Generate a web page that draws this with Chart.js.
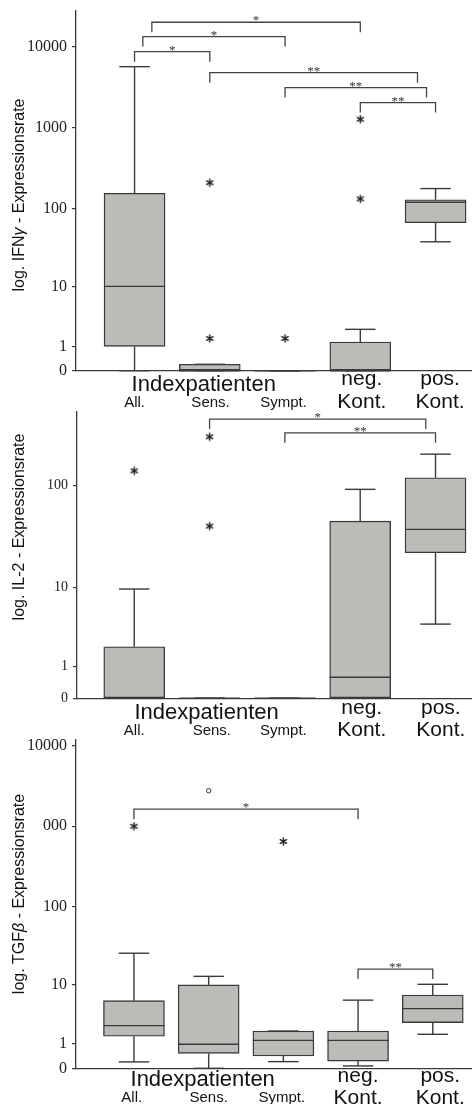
<!DOCTYPE html>
<html>
<head>
<meta charset="utf-8">
<script src="https://cdn.jsdelivr.net/npm/chart.js@4.4.1/dist/chart.umd.min.js"></script>
<style>
  html, body { margin: 0; padding: 0; background: #fff; }
  body { width: 476px; height: 1104px; position: relative; overflow: hidden; }
  .panel { position: absolute; left: 0; width: 476px; }
  canvas { display: block; }
</style>
</head>
<body>
<div class="panel" style="top:0px"><canvas id="cIfn" width="476" height="412"></canvas></div>
<div class="panel" style="top:400px"><canvas id="cIl2" width="476" height="345"></canvas></div>
<div class="panel" style="top:735px"><canvas id="cTgf" width="476" height="369"></canvas></div>
<script>
// ---- groups ----
const groups = ['All.', 'Sens.', 'Sympt.', 'neg. Kont.', 'pos. Kont.'];
const patientGroupTitle = 'Indexpatienten';
const patientGroupCount = 3;

// ---- IFN-gamma expression (box statistics per group) ----
const ifnTickValues = [0, 1, 10, 100, 1000, 10000];
const ifnTickLabels = ['0', '1', '10', '100', '1000', '10000'];
const ifnMin = [0, 0, 0, 0, 38];
const ifnQ1  = [1, 0, 0, 0, 66];
const ifnMed = [10, 0, 0, 0, 119];
const ifnQ3  = [154, 0.2, 0, 1.26, 128];
const ifnMax = [5660, 0.2, 0, 2.24, 176];
const ifnStarX = [1, 1, 2, 3, 3];
const ifnStarY = [1.5, 208, 1.5, 131, 1270];
const ifnSigFrom  = [0.23, 0.11, 0, 1, 2, 3];
const ifnSigTo    = [3, 2, 1, 3.76, 3.88, 4];
const ifnSigLevel = [20000, 13300, 8670, 4775, 3120, 2040];
const ifnSigText  = ['*', '*', '*', '**', '**', '**'];

// ---- IL-2 expression ----
const il2TickValues = [0, 1, 10, 100];
const il2TickLabels = ['0', '1', '10', '100'];
const il2Min = [0, 0, 0, 0, 4.0];
const il2Q1  = [0, 0, 0, 0, 22.5];
const il2Med = [0, 0, 0, 0.58, 38];
const il2Q3  = [2.06, 0, 0, 45.7, 118.5];
const il2Max = [9.7, 0, 0, 92, 198.5];
const il2StarX = [0, 1, 1];
const il2StarY = [138, 290, 40.9];
const il2SigFrom  = [1, 2];
const il2SigTo    = [3.87, 4];
const il2SigLevel = [426, 316];
const il2SigText  = ['*', '**'];

// ---- TGF-beta expression ----
const tgfTickValues = [0, 1, 10, 100, 1000, 10000];
const tgfTickLabels = ['0', '1', '10', '100', '000', '10000'];
const tgfMin = [0.2, 0, 0.21, 0.07, 1.64];
const tgfQ1  = [1.5, 0.53, 0.42, 0.23, 2.68];
const tgfMed = [2.38, 0.99, 1.22, 1.22, 4.5];
const tgfQ3  = [5.9, 9.8, 1.9, 1.9, 7.1];
const tgfMax = [25.7, 12.8, 1.9, 6.0, 10.0];
const tgfStarX = [0, 2];
const tgfStarY = [1000, 648];
const tgfCircleX = [1];
const tgfCircleY = [2760];
const tgfSigFrom  = [0, 3];
const tgfSigTo    = [3, 4];
const tgfSigLevel = [1632, 16];
const tgfSigText  = ['*', '**'];

// ---- drawing helpers ----
const T = v => Math.log10(v + 1);          // log(x+1) axis transform
const INK = '#3a3a3a';
const BOX_FILL = '#bcbbb7';

function asteriskImage(r, lw) {
  const s = Math.ceil(2 * r + lw + 2);
  const c = document.createElement('canvas');
  c.width = s; c.height = s;
  const g = c.getContext('2d');
  g.strokeStyle = '#222';
  g.lineWidth = lw;
  g.lineCap = 'round';
  const m = s / 2;
  for (let k = 0; k < 3; k++) {
    const a = Math.PI / 2 + k * Math.PI / 3;
    g.beginPath();
    g.moveTo(m + r * Math.cos(a), m + r * Math.sin(a));
    g.lineTo(m - r * Math.cos(a), m - r * Math.sin(a));
    g.stroke();
  }
  return c;
}
const starImg = asteriskImage(3.6, 1.5);

function seg(ctx, x1, y1, x2, y2) {
  ctx.beginPath(); ctx.moveTo(x1, y1); ctx.lineTo(x2, y2); ctx.stroke();
}

function panelPlugin(spec) {
  const L = spec.layout;
  return {
    id: 'panelDecor',
    afterDatasetsDraw(chart) {
      const { ctx, scales: { x, y } } = chart;
      const half = L.boxWidth / 2, capHalf = L.boxWidth / 4;
      ctx.save();
      ctx.strokeStyle = INK;
      ctx.lineWidth = 1.4;
      spec.med.forEach((m, i) => {
        const cx = x.getPixelForValue(i);
        const yMin = y.getPixelForValue(T(spec.min[i]));
        const yQ1 = y.getPixelForValue(T(spec.q1[i]));
        const yMed = y.getPixelForValue(T(m));
        const yQ3 = y.getPixelForValue(T(spec.q3[i]));
        const yMax = y.getPixelForValue(T(spec.max[i]));
        if (yMax < yQ3) seg(ctx, cx, yQ3, cx, yMax);
        seg(ctx, cx - capHalf, yMax, cx + capHalf, yMax);
        if (yMin > yQ1) seg(ctx, cx, yQ1, cx, yMin);
        seg(ctx, cx - capHalf, yMin, cx + capHalf, yMin);
        seg(ctx, cx - half, yMed, cx + half, yMed);
      });
      ctx.restore();
    },
    afterDraw(chart) {
      const { ctx, chartArea, scales: { x, y } } = chart;
      ctx.save();
      // significance brackets
      ctx.strokeStyle = '#444';
      ctx.lineWidth = 1.3;
      ctx.fillStyle = '#333';
      ctx.font = '13px "Liberation Serif"';
      ctx.textAlign = 'center';
      ctx.textBaseline = 'alphabetic';
      spec.sigFrom.forEach((f, k) => {
        const x1 = x.getPixelForValue(f), x2 = x.getPixelForValue(spec.sigTo[k]);
        const yp = y.getPixelForValue(T(spec.sigLevel[k]));
        ctx.beginPath();
        ctx.moveTo(x1, yp + L.drop); ctx.lineTo(x1, yp); ctx.lineTo(x2, yp); ctx.lineTo(x2, yp + L.drop);
        ctx.stroke();
        ctx.fillText(spec.sigText[k], (x1 + x2) / 2, yp + 2);
      });

      // category labels
      const base = chartArea.bottom;
      ctx.fillStyle = '#111';
      ctx.textBaseline = 'middle';
      ctx.font = L.titleSize + 'px "Liberation Sans"';
      ctx.fillText(patientGroupTitle, x.getPixelForValue(L.groupTitleX), base + L.titleDy);
      groups.forEach((g, i) => {
        const px = x.getPixelForValue(i + L.labelShift[i]);
        if (i < patientGroupCount) {
          ctx.font = L.smallSize + 'px "Liberation Sans"';
          ctx.fillText(g, px, base + L.lowerDy);
        } else {
          const parts = g.split(' ');
          ctx.font = L.bigSize + 'px "Liberation Sans"';
          ctx.fillText(parts[0], px, base + L.upperDy);
          ctx.fillText(parts[1], px, base + L.lowerDy);
        }
      });

      // rotated y-axis title with italic greek letter
      ctx.translate(L.yTitleX, L.yTitleY);
      ctx.rotate(-Math.PI / 2);
      ctx.fillStyle = '#111';
      ctx.textAlign = 'left';
      const fonts = spec.yTitle.map(p => (p[1] ? 'italic ' : '') + L.yTitleSize + 'px "Liberation Sans"');
      let total = 0;
      const widths = spec.yTitle.map((p, k) => { ctx.font = fonts[k]; const w = ctx.measureText(p[0]).width; total += w; return w; });
      let cur = -total / 2;
      spec.yTitle.forEach((p, k) => { ctx.font = fonts[k]; ctx.fillText(p[0], cur, 0); cur += widths[k]; });
      ctx.restore();
    }
  };
}

function buildPanel(canvasId, spec) {
  const L = spec.layout;
  const datasets = [
    {
      type: 'bar',
      data: groups.map((g, i) => ({ x: i, y: [T(spec.q1[i]), T(spec.q3[i])] })),
      backgroundColor: BOX_FILL,
      borderColor: INK,
      borderWidth: 1.4,
      borderSkipped: false,
      barThickness: L.boxWidth,
      grouped: false,
      clip: false,
      order: 2
    },
    {
      type: 'scatter',
      data: spec.starX.map((xv, k) => ({ x: xv, y: T(spec.starY[k]) })),
      pointStyle: starImg,
      pointRadius: 4,
      clip: false,
      order: 1
    }
  ];
  if (spec.circleX) {
    datasets.push({
      type: 'scatter',
      data: spec.circleX.map((xv, k) => ({ x: xv, y: T(spec.circleY[k]) })),
      pointStyle: 'circle',
      pointRadius: 2.2,
      borderWidth: 1,
      borderColor: '#333',
      backgroundColor: '#fff',
      clip: false,
      order: 1
    });
  }
  return new Chart(document.getElementById(canvasId), {
    type: 'bar',
    data: { datasets },
    options: {
      responsive: false,
      animation: false,
      events: [],
      layout: { padding: { top: L.padTop, left: 0, right: 0, bottom: 0 } },
      plugins: { legend: { display: false }, tooltip: { enabled: false } },
      scales: {
        x: {
          type: 'linear',
          min: L.xMin,
          max: L.xMax,
          offset: false,
          ticks: { display: false },
          grid: { drawOnChartArea: false, drawTicks: false },
          border: { display: true, color: INK, width: 1.3 },
          afterFit: s => { s.height = L.bottomSpace; s.paddingLeft = 0; s.paddingRight = 0; }
        },
        y: {
          type: 'linear',
          min: 0,
          max: L.yMax,
          afterBuildTicks: s => { s.ticks = spec.tickValues.map(v => ({ value: T(v) })); },
          afterFit: s => { s.width = L.axisLeft; s.paddingTop = 0; s.paddingBottom = 0; },
          ticks: {
            autoSkip: false,
            padding: 5,
            color: '#222',
            font: { family: 'Liberation Serif', size: L.tickSize },
            callback: (v, i) => spec.tickLabels[i]
          },
          grid: { drawOnChartArea: false, drawTicks: true, tickLength: 4, color: INK, lineWidth: 1.2 },
          border: { display: true, color: INK, width: 1.3 }
        }
      }
    },
    plugins: [panelPlugin(spec)]
  });
}

buildPanel('cIfn', {
  tickValues: ifnTickValues, tickLabels: ifnTickLabels,
  min: ifnMin, q1: ifnQ1, med: ifnMed, q3: ifnQ3, max: ifnMax,
  starX: ifnStarX, starY: ifnStarY,
  sigFrom: ifnSigFrom, sigTo: ifnSigTo, sigLevel: ifnSigLevel, sigText: ifnSigText,
  yTitle: [['log. IFN', false], ['\u03b3', true], [' - Expressionsrate', false]],
  layout: {
    padTop: 11, bottomSpace: 41.3, yMax: 4.44, axisLeft: 76, xMin: -0.778, xMax: 4.471,
    boxWidth: 61, drop: 10, tickSize: 16,
    groupTitleX: 0.92, titleDy: 14, upperDy: 9, lowerDy: 32,
    titleSize: 22, bigSize: 21, smallSize: 15, labelShift: [0, 0.01, -0.02, 0.02, 0.06],
    yTitleX: 20, yTitleY: 195, yTitleSize: 16
  }
});

buildPanel('cIl2', {
  tickValues: il2TickValues, tickLabels: il2TickLabels,
  min: il2Min, q1: il2Q1, med: il2Med, q3: il2Q3, max: il2Max,
  starX: il2StarX, starY: il2StarY,
  sigFrom: il2SigFrom, sigTo: il2SigTo, sigLevel: il2SigLevel, sigText: il2SigText,
  yTitle: [['log. IL-2 - Expressionsrate', false]],
  layout: {
    padTop: 11.7, bottomSpace: 46.7, yMax: 2.70, axisLeft: 77, xMin: -0.76, xMax: 4.471,
    boxWidth: 61, drop: 10, tickSize: 14,
    groupTitleX: 0.96, titleDy: 14.4, upperDy: 9.7, lowerDy: 32.4,
    titleSize: 22, bigSize: 21, smallSize: 15, labelShift: [0, 0.03, -0.02, 0.02, 0.07],
    yTitleX: 20, yTitleY: 127, yTitleSize: 16
  }
});

buildPanel('cTgf', {
  tickValues: tgfTickValues, tickLabels: tgfTickLabels,
  min: tgfMin, q1: tgfQ1, med: tgfMed, q3: tgfQ3, max: tgfMax,
  starX: tgfStarX, starY: tgfStarY, circleX: tgfCircleX, circleY: tgfCircleY,
  sigFrom: tgfSigFrom, sigTo: tgfSigTo, sigLevel: tgfSigLevel, sigText: tgfSigText,
  yTitle: [['log. TGF', false], ['\u03b2', true], [' - Expressionsrate', false]],
  layout: {
    padTop: 5, bottomSpace: 35.7, yMax: 4.07, axisLeft: 76, xMin: -0.776, xMax: 4.512,
    boxWidth: 61, drop: 10, tickSize: 16,
    groupTitleX: 0.92, titleDy: 12, upperDy: 8, lowerDy: 30,
    titleSize: 22, bigSize: 21, smallSize: 15, labelShift: [-0.03, 0.0, -0.02, 0.0, 0.1],
    yTitleX: 20, yTitleY: 159, yTitleSize: 16
  }
});
</script>
</body>
</html>
